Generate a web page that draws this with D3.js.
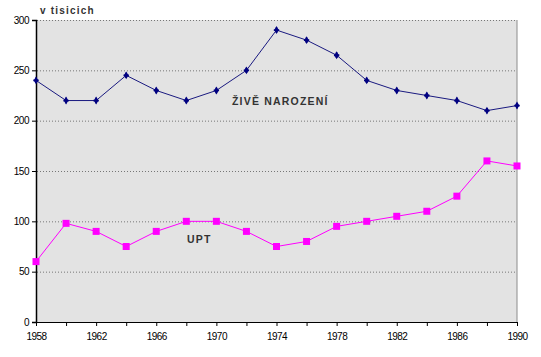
<!DOCTYPE html>
<html><head><meta charset="utf-8">
<script src="https://cdn.jsdelivr.net/npm/d3@7"></script>
<style>body{margin:0;background:#fff}svg{display:block}</style>
</head><body>
<script>
const years = [1958,1960,1962,1964,1966,1968,1970,1972,1974,1976,1978,1980,1982,1984,1986,1988,1990];
const zive = [240,220,220,245,230,220,230,250,290,280,265,240,230,225,220,210,215];
const upt = [60,98,90,75,90,100,100,90,75,80,95,100,105,110,125,160,155];
const yTicks = [0,50,100,150,200,250,300];
const xLabels = [1958,1962,1966,1970,1974,1978,1982,1986,1990];

const W=541,H=357;
const svg=d3.select("body").append("svg").attr("width",W).attr("height",H);
const x=d3.scaleLinear().domain([1958,1990]).range([36,517]);
const y=d3.scaleLinear().domain([0,300]).range([322,20]);

svg.append("rect").attr("x",36).attr("y",20).attr("width",481).attr("height",302).attr("fill","#e3e3e3");
svg.append("line").attr("x1",517).attr("x2",517).attr("y1",20).attr("y2",322).attr("stroke","#8c8c8c");

svg.selectAll(".grid").data(yTicks.filter(d=>d>0)).enter().append("line")
  .attr("x1",37).attr("x2",516).attr("y1",d=>y(d)+0.5).attr("y2",d=>y(d)+0.5)
  .attr("stroke","#777").attr("stroke-dasharray","1,2");

const yAxis=svg.append("g").attr("transform","translate(36,0)")
  .call(d3.axisLeft(y).tickValues(yTicks).tickSize(4).tickPadding(3));
const xAxis=svg.append("g").attr("transform","translate(0,322)")
  .call(d3.axisBottom(x).tickValues(years).tickSize(4).tickPadding(7).tickFormat(d=>xLabels.includes(d)?d:""));
[yAxis,xAxis].forEach(g=>{
  g.select(".domain").attr("stroke","#000");
  g.selectAll(".tick line").attr("stroke","#000");
  g.selectAll("text").attr("font-family","Liberation Sans, Arial, sans-serif").attr("font-size",10).attr("fill","#000").attr("letter-spacing","-0.5");
});
yAxis.select(".domain").attr("stroke-width",1.5);

const line=d3.line().x((d,i)=>x(years[i])).y(d=>y(d));
svg.append("path").datum(zive).attr("d",line).attr("fill","none").attr("stroke","#1a1a80").attr("stroke-width",1);
svg.append("path").datum(upt).attr("d",line).attr("fill","none").attr("stroke","#ff00ff").attr("stroke-width",1);

svg.selectAll(".zm").data(zive).enter().append("path")
  .attr("d",d3.symbol().type(d3.symbolDiamond).size(18)).attr("transform",(d,i)=>`translate(${x(years[i])},${y(d)})`).attr("fill","#000080");
svg.selectAll(".zc").data(zive).enter().append("path")
  .attr("d",d3.symbol().type(d3.symbolCross).size(16)).attr("transform",(d,i)=>`translate(${x(years[i])},${y(d)})`).attr("fill","#000080");
svg.selectAll(".um").data(upt).enter().append("rect")
  .attr("x",(d,i)=>x(years[i])-3.5).attr("y",d=>y(d)-3.5).attr("width",7).attr("height",7).attr("fill","#ff00ff");

const tf="Liberation Sans, Arial, sans-serif";
svg.append("text").attr("x",40).attr("y",14).text("v tisicich").attr("font-family",tf).attr("font-size",10).attr("font-weight","bold").attr("letter-spacing","1.2").attr("fill","#333");
svg.append("text").attr("x",232).attr("y",105).text("ŽIVĚ NAROZENÍ").attr("font-family",tf).attr("font-size",10.5).attr("font-weight","bold").attr("letter-spacing","1.2").attr("fill","#333");
svg.append("text").attr("x",187).attr("y",243).text("UPT").attr("font-family",tf).attr("font-size",10.5).attr("font-weight","bold").attr("letter-spacing","1.2").attr("fill","#333");
</script>
</body></html>
